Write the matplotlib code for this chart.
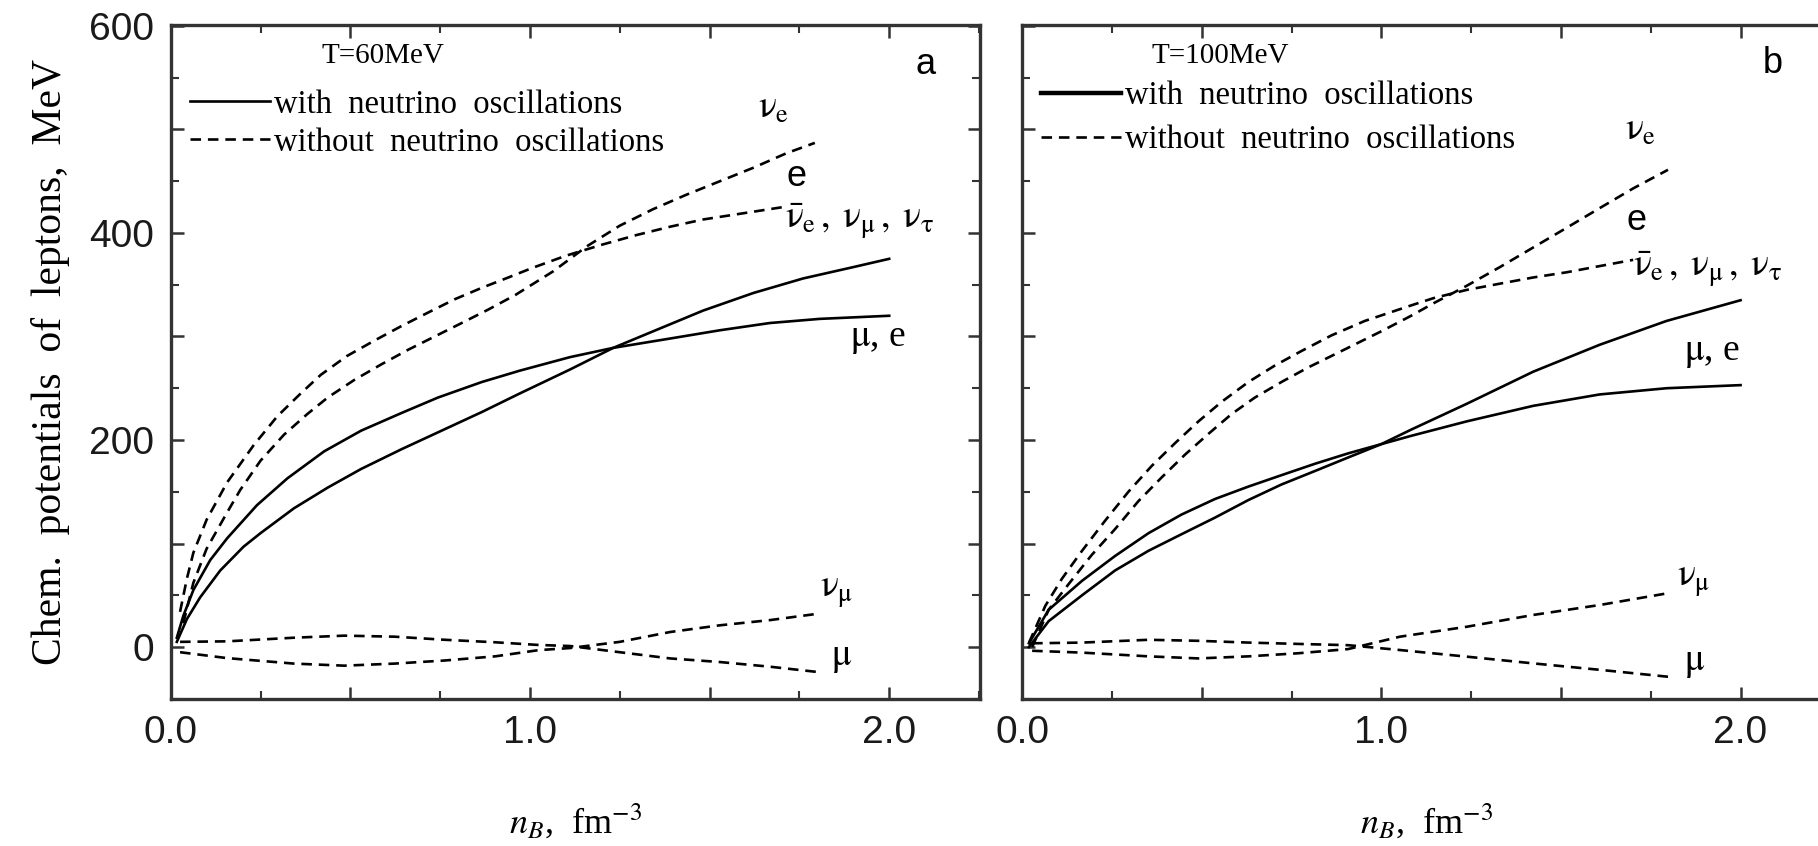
import matplotlib
matplotlib.use('Agg')
import matplotlib.pyplot as plt
from matplotlib.lines import Line2D
from matplotlib.ticker import MultipleLocator, FixedLocator

plt.rcParams['mathtext.fontset'] = 'stix'
SERIF = ['Liberation Serif', 'DejaVu Serif']
SANS = ['Liberation Sans', 'DejaVu Sans']

# ---------------- panel a, T=60 MeV ----------------
a_x_with_mu = [0.017, 0.035, 0.063, 0.11, 0.157, 0.24, 0.325, 0.427, 0.53, 0.642, 0.744,
               0.866, 0.972, 1.111, 1.232, 1.39, 1.529, 1.668, 1.807, 2.0]
a_y_with_mu = [9, 30, 55, 84, 105, 137, 163, 189, 209, 226, 241,
               256, 267, 280, 289, 298, 306, 313, 317, 320]
a_x_with_nu = [0.017, 0.045, 0.082, 0.138, 0.203, 0.25, 0.343, 0.437, 0.53, 0.642, 0.754,
               0.866, 0.972, 1.111, 1.232, 1.343, 1.482, 1.622, 1.76, 1.9, 2.0]
a_y_with_nu = [5, 27, 48, 74, 97, 110, 134, 154, 172, 191, 209,
               227, 245, 268, 289, 305, 325, 342, 356, 367, 375]
a_x_wo_e = [0.035, 0.063, 0.10, 0.157, 0.194, 0.25, 0.315, 0.38, 0.437, 0.511, 0.586, 0.66,
            0.735, 0.81, 0.884, 0.959, 1.065, 1.158, 1.25, 1.343, 1.436, 1.529, 1.622, 1.714, 1.793]
a_y_wo_e = [23, 62, 95, 130, 152, 180, 205, 225, 241, 258, 273, 287,
            300, 313, 326, 340, 363, 387, 407, 423, 437, 450, 463, 477, 487]
a_x_wo_nu = [0.026, 0.045, 0.063, 0.10, 0.157, 0.231, 0.297, 0.362, 0.418, 0.49, 0.567, 0.642,
             0.716, 0.791, 0.866, 0.94, 1.005, 1.1, 1.204, 1.297, 1.39, 1.482, 1.575, 1.705]
a_y_wo_nu = [34, 66, 91, 123, 159, 195, 223, 245, 263, 281, 296, 310,
             323, 336, 347, 357, 366, 378, 389, 398, 406, 413, 418, 425]
a_x_low = [0.026, 0.157, 0.343, 0.483, 0.623, 0.763, 0.903, 1.024, 1.111, 1.25, 1.39, 1.529, 1.668, 1.798]
a_y_mu = [5, 5.5, 9, 11, 10, 7, 4.6, 2, 1, -5, -11, -14.5, -19, -24]
a_y_numu = [-5, -10.7, -16, -18, -16, -13, -9, -3, -1, 5, 14.5, 21, 26, 32]

# ---------------- panel b, T=100 MeV ----------------
b_x_with = [0.019, 0.074, 0.167, 0.259, 0.352, 0.444, 0.537, 0.63, 0.722, 0.815, 0.907,
            1.0, 1.083, 1.238, 1.423, 1.608, 1.794, 2.0]
b_y_with_mu = [3.6, 36, 64, 88, 110, 128, 143, 155, 166, 177, 187,
               196, 204, 218, 233, 244, 250, 253]
b_y_with_nu = [0, 25, 50, 74, 93, 109, 125, 142, 157, 170, 183,
               196, 210, 235, 266, 292, 315, 335]
b_x_wo_nu = [0.019, 0.065, 0.111, 0.167, 0.231, 0.296, 0.361, 0.426, 0.491, 0.556, 0.63, 0.704,
             0.778, 0.861, 0.954, 1.083, 1.145, 1.238, 1.33, 1.423, 1.516, 1.608, 1.701]
b_y_wo_nu = [4, 40, 66, 93, 122, 150, 175, 197, 218, 237, 256, 272,
             286, 301, 315, 330, 337, 345, 351, 357, 362, 368, 374]
b_x_wo_e = [0.028, 0.074, 0.13, 0.194, 0.259, 0.324, 0.389, 0.454, 0.519, 0.583, 0.648, 0.722,
            0.796, 0.907, 1.0, 1.083, 1.145, 1.238, 1.33, 1.423, 1.516, 1.608, 1.701, 1.798]
b_y_wo_e = [0, 36, 61, 89, 114, 141, 164, 186, 206, 225, 241, 256,
            270, 289, 305, 320, 332, 349, 367, 386, 405, 424, 443, 461]
b_x_low = [0.028, 0.167, 0.352, 0.491, 0.63, 0.769, 0.907, 1.052, 1.238, 1.423, 1.608, 1.798]
b_y_mu = [3.6, 4.3, 7, 6, 4.3, 3, 1.8, -2.9, -9.3, -15.8, -22, -28.7]
b_y_numu = [-3.6, -5.4, -9, -11, -9, -6, -2, 10, 19.6, 31, 40.6, 52]

temps = ['T=60MeV', 'T=100MeV']
panel_tags = ['a', 'b']
x_ticks = [0.0, 0.5, 1.0, 1.5, 2.0]
x_ticklabels = ['0.0', '', '1.0', '', '2.0']
y_ticks = [0, 100, 200, 300, 400, 500, 600]
y_ticklabels = ['0', '', '200', '', '400', '', '600']

LW = 1.9
DASH = (0, (4.0, 2.6))
SPINE = '#333333'
NU_E = r'$\mathrm{\nu}_\mathrm{e}$'
NU_MU = r'$\mathrm{\nu}_\mathrm{\mu}$'
NU_GROUP = (r'$\bar{\mathrm{\nu}}_\mathrm{e}\,,\;\mathrm{\nu}_\mathrm{\mu}\,,\;'
            r'\mathrm{\nu}_\mathrm{\tau}$')
MU = r'$\mathrm{\mu}$'
MU_E = r'$\mathrm{\mu}$, e'

fig = plt.figure(figsize=(18.18, 8.46), dpi=100)
ax_a = fig.add_axes([0.0939, 0.174, 0.445, 0.796])
ax_b = fig.add_axes([0.5622, 0.174, 0.445, 0.796])


def style_axes(ax, show_ylabels):
    ax.set_xlim(0, 2.252)
    ax.set_ylim(-50, 600.5)
    for sp in ax.spines.values():
        sp.set_linewidth(2.4)
        sp.set_color(SPINE)
    ax.xaxis.set_major_locator(FixedLocator(x_ticks))
    ax.xaxis.set_minor_locator(MultipleLocator(0.25))
    ax.yaxis.set_major_locator(FixedLocator(y_ticks))
    ax.yaxis.set_minor_locator(MultipleLocator(50))
    ax.tick_params(which='both', direction='in', top=True, right=True, colors=SPINE,
                   labelcolor='#1a1a1a')
    ax.tick_params(which='major', length=9, width=1.8, pad=12)
    ax.tick_params(which='minor', length=6, width=1.5)
    ax.set_xticklabels(x_ticklabels, fontsize=28, family=SANS)
    if show_ylabels:
        ax.set_yticklabels(y_ticklabels, fontsize=28, family=SANS)
    else:
        ax.set_yticklabels([])
    ax.set_xlabel(r'$n_B$,  fm$^{-3}$', fontsize=26, family=SERIF, labelpad=36)


def draw_legend(ax, temp, temp_x, top, spacing, solid_lw):
    handles = [Line2D([], [], color='k', lw=solid_lw), Line2D([], [], color='k', lw=LW, ls=DASH)]
    labels = ['with  neutrino  oscillations', 'without  neutrino  oscillations']
    ax.legend(handles, labels, loc='upper left', bbox_to_anchor=(0.024, top), frameon=False,
              handlelength=2.45, handletextpad=0.12, borderpad=0, borderaxespad=0,
              labelspacing=spacing, prop={'family': SERIF, 'size': 23.5})
    ax.text(temp_x, 0.955, temp, transform=ax.transAxes, ha='center', va='center',
            fontsize=21, family=SERIF)


# panel a
ax = ax_a
ax.plot(a_x_with_mu, a_y_with_mu, color='k', lw=LW)
ax.plot(a_x_with_nu, a_y_with_nu, color='k', lw=LW)
ax.plot(a_x_wo_e, a_y_wo_e, color='k', lw=LW, ls=DASH)
ax.plot(a_x_wo_nu, a_y_wo_nu, color='k', lw=LW, ls=DASH)
ax.plot(a_x_low, a_y_mu, color='k', lw=LW, ls=DASH)
ax.plot(a_x_low, a_y_numu, color='k', lw=LW, ls=DASH)
style_axes(ax, True)
draw_legend(ax, temps[0], 0.262, 0.905, 0.22, LW)
ax.set_ylabel('Chem.  potentials  of  leptons,  MeV', fontsize=30, family=SERIF, labelpad=14)
ax.text(1.677, 521, NU_E, fontsize=27, ha='center', va='center')
ax.text(1.742, 455, 'e', fontsize=26, ha='center', va='center', family=SANS)
ax.text(1.71, 411, NU_GROUP, fontsize=27, ha='left', va='center')
ax.text(1.97, 298, MU_E, fontsize=27, ha='center', va='center', family=SERIF)
ax.text(1.853, 53, NU_MU, fontsize=27, ha='center', va='center')
ax.text(1.867, -10, MU, fontsize=27, ha='center', va='center')
ax.text(2.1, 563, panel_tags[0], fontsize=26, ha='center', va='center', family=SANS)

# panel b
ax = ax_b
ax.plot(b_x_with, b_y_with_mu, color='k', lw=LW)
ax.plot(b_x_with, b_y_with_nu, color='k', lw=LW)
ax.plot(b_x_wo_e, b_y_wo_e, color='k', lw=LW, ls=DASH)
ax.plot(b_x_wo_nu, b_y_wo_nu, color='k', lw=LW, ls=DASH)
ax.plot(b_x_low, b_y_mu, color='k', lw=LW, ls=DASH)
ax.plot(b_x_low, b_y_numu, color='k', lw=LW, ls=DASH)
style_axes(ax, False)
draw_legend(ax, temps[1], 0.245, 0.918, 0.42, 3.2)
ax.text(1.72, 500, NU_E, fontsize=27, ha='center', va='center')
ax.text(1.71, 412, 'e', fontsize=26, ha='center', va='center', family=SANS)
ax.text(1.70, 364, NU_GROUP, fontsize=27, ha='left', va='center')
ax.text(1.92, 284, MU_E, fontsize=27, ha='center', va='center', family=SERIF)
ax.text(1.868, 64, NU_MU, fontsize=27, ha='center', va='center')
ax.text(1.873, -14, MU, fontsize=27, ha='center', va='center')
ax.text(2.09, 564, panel_tags[1], fontsize=26, ha='center', va='center', family=SANS)

fig.savefig('out.png', dpi=100)
